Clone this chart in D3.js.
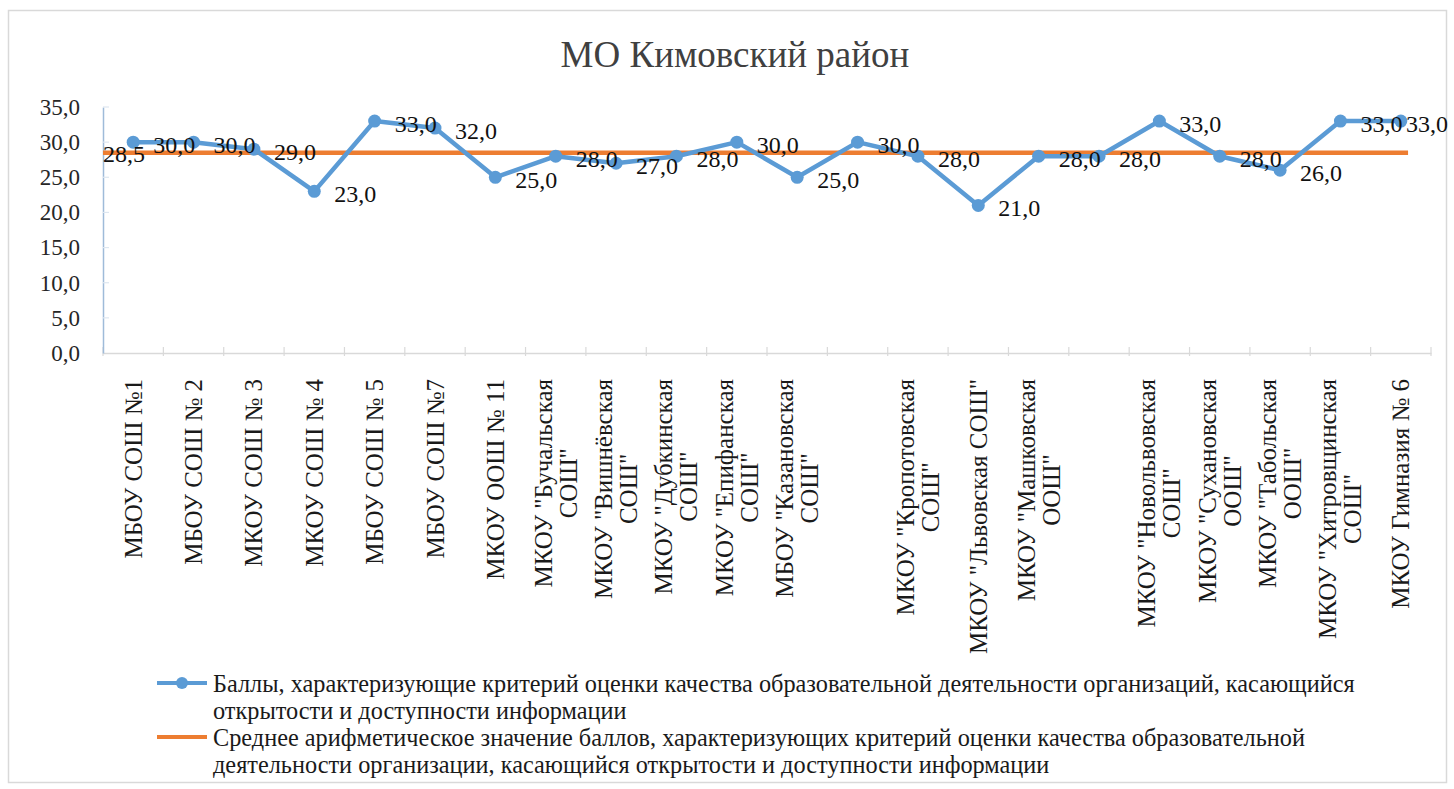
<!DOCTYPE html>
<html>
<head>
<meta charset="utf-8">
<script src="https://cdn.jsdelivr.net/npm/d3@7"></script>
<style>
  html, body { margin: 0; padding: 0; background: #fff; }
  svg { display: block; }
  svg text { font-family: "Liberation Serif", "Times New Roman", "DejaVu Serif", serif; }
</style>
</head>
<body>
<svg id="chart" width="1454" height="789"></svg>
<script>
// ---- DATA ----
const title = "МО Кимовский район";
const categories = [
  "МБОУ СОШ №1",
  "МБОУ СОШ № 2",
  "МКОУ СОШ № 3",
  "МКОУ СОШ № 4",
  "МБОУ СОШ № 5",
  "МБОУ СОШ №7",
  "МКОУ ООШ № 11",
  "МКОУ \"Бучальская\nСОШ\"",
  "МКОУ \"Вишнёвская\nСОШ\"",
  "МКОУ \"Дубкинская\nСОШ\"",
  "МКОУ \"Епифанская\nСОШ\"",
  "МБОУ \"Казановская\nСОШ\"",
  "",
  "МКОУ \"Кропотовская\nСОШ\"",
  "МКОУ \"Львовская СОШ\"",
  "МКОУ \"Машковская\nООШ\"",
  "",
  "МКОУ \"Новольвовская\nСОШ\"",
  "МКОУ \"Сухановская\nООШ\"",
  "МКОУ \"Табольская\nООШ\"",
  "МКОУ \"Хитровщинская\nСОШ\"",
  "МКОУ Гимназия № 6"
];
const scores = [30, 30, 29, 23, 33, 32, 25, 28, 27, 28, 30, 25, 30, 28, 21, 28, 28, 33, 28, 26, 33, 33];
const meanValue = 28.5;
const yTicks = [0, 5, 10, 15, 20, 25, 30, 35];
const seriesNames = [
  ["Баллы, характеризующие  критерий оценки качества образовательной деятельности организаций, касающийся",
   "открытости и доступности информации"],
  ["Среднее арифметическое значение баллов, характеризующих  критерий оценки качества образовательной",
   "деятельности организации, касающийся открытости и доступности информации"]
];

// ---- STYLE ----
const blue = "#5B9BD5", orange = "#ED7D31";
const serif = "Liberation Serif, Times New Roman, serif";
const fmt = v => v.toFixed(1).replace(".", ",");

const svg = d3.select("#chart");

// outer frame
svg.append("rect")
  .attr("x", 8.5).attr("y", 10.5).attr("width", 1438).attr("height", 772)
  .attr("fill", "#fff").attr("stroke", "#d9d9d9").attr("stroke-width", 1.5);

// title
svg.append("text")
  .attr("x", 735).attr("y", 67)
  .attr("text-anchor", "middle")
  .attr("font-family", serif)
  .attr("font-size", 37)
  .attr("fill", "#404040")
  .text(title);

const x = d3.scaleBand().domain(d3.range(categories.length)).range([103, 1431]).padding(0);
const y = d3.scaleLinear().domain([0, 35]).range([353, 107]);
const cx = i => x(i) + x.bandwidth() / 2;

// x axis line + ticks
const xAxis = svg.append("g").attr("transform", `translate(0,${y(0)})`)
  .call(d3.axisBottom(x).tickValues([]).tickSize(0).tickSizeOuter(0));
xAxis.select(".domain").attr("stroke", "#d9d9d9").attr("stroke-width", 1.5);
svg.append("g").selectAll("line")
  .data(d3.range(categories.length + 1))
  .join("line")
  .attr("x1", i => i < categories.length ? x(i) : x.range()[1])
  .attr("x2", i => i < categories.length ? x(i) : x.range()[1])
  .attr("y1", y(0) - 6).attr("y2", y(0) + 3)
  .attr("stroke", "#d9d9d9").attr("stroke-width", 1.2);

// y axis
const yAxis = svg.append("g").attr("transform", `translate(${x.range()[0]},0)`)
  .call(d3.axisLeft(y).tickValues(yTicks).tickFormat(fmt).tickSize(0).tickPadding(23).tickSizeOuter(0));
yAxis.select(".domain").attr("stroke", "#9fbbd9").attr("stroke-width", 1.5);
yAxis.selectAll("text")
  .attr("font-size", 23)
  .attr("fill", "#262626")
  .attr("font-family", serif);
svg.append("g").selectAll("line")
  .data(yTicks.slice(1))
  .join("line")
  .attr("x1", x.range()[0]).attr("x2", x.range()[0] + 6)
  .attr("y1", d => y(d)).attr("y2", d => y(d))
  .attr("stroke", "#dde6f0").attr("stroke-width", 1.2);

// x labels (rotated, multi-line centered, top aligned)
const labelTop = 379;
const lineGap = 25;
categories.forEach((lab, i) => {
  if (!lab) return;
  const lines = lab.split("\n");
  const g = svg.append("g");
  const texts = lines.map((ln, k) => g.append("text")
    .attr("font-family", serif)
    .attr("font-size", 25)
    .attr("fill", "#1a1a1a")
    .attr("text-anchor", "middle")
    .attr("dominant-baseline", "central")
    .text(ln));
  const maxLen = d3.max(texts, t => t.node().getComputedTextLength());
  texts.forEach((t, k) => {
    const lx = cx(i) + (k - (lines.length - 1) / 2) * lineGap;
    const ly = labelTop + maxLen / 2;
    t.attr("transform", `translate(${lx},${ly}) rotate(-90)`);
  });
});

// mean line
svg.append("line")
  .attr("x1", x.range()[0]).attr("x2", cx(categories.length - 1) + x.bandwidth() * 0.12)
  .attr("y1", y(meanValue)).attr("y2", y(meanValue))
  .attr("stroke", orange).attr("stroke-width", 4.5);

// score line
const line = d3.line().x((d, i) => cx(i)).y(d => y(d));
svg.append("path")
  .datum(scores)
  .attr("d", line)
  .attr("fill", "none")
  .attr("stroke", blue)
  .attr("stroke-width", 4.5)
  .attr("stroke-linejoin", "round");

svg.append("g").selectAll("circle")
  .data(scores)
  .join("circle")
  .attr("cx", (d, i) => cx(i))
  .attr("cy", d => y(d))
  .attr("r", 6.5)
  .attr("fill", blue);

// mean data label
svg.append("text")
  .attr("x", x.range()[0]).attr("y", y(meanValue) + 1)
  .attr("dominant-baseline", "central")
  .attr("font-family", serif)
  .attr("font-size", 24).attr("fill", "#111")
  .text(fmt(meanValue));

// data labels (kept inside the chart frame)
const rightLimit = 1448;
svg.append("g").selectAll("text")
  .data(scores)
  .join("text")
  .attr("y", d => y(d) + 3)
  .attr("dominant-baseline", "central")
  .attr("font-family", serif)
  .attr("font-size", 24)
  .attr("fill", "#111")
  .text(fmt)
  .each(function (d, i) {
    const w = this.getComputedTextLength();
    d3.select(this).attr("x", Math.min(cx(i) + 20, rightLimit - w));
  });

// legend
const legX = 157, legTextX = 213;
const legRows = [683, 737];
const legLineGap = 27;
seriesNames.forEach((lines, s) => {
  const ly = legRows[s];
  svg.append("line")
    .attr("x1", legX).attr("x2", legX + 50)
    .attr("y1", ly).attr("y2", ly)
    .attr("stroke", s === 0 ? blue : orange).attr("stroke-width", 4);
  if (s === 0) {
    svg.append("circle").attr("cx", legX + 25).attr("cy", ly).attr("r", 6).attr("fill", blue);
  }
  lines.forEach((ln, k) => {
    svg.append("text")
      .attr("x", legTextX).attr("y", ly + k * legLineGap)
      .attr("dominant-baseline", "central")
      .attr("font-family", serif)
      .attr("font-size", 24.3)
      .attr("fill", "#1a1a1a")
      .text(ln);
  });
});
</script>
</body>
</html>
